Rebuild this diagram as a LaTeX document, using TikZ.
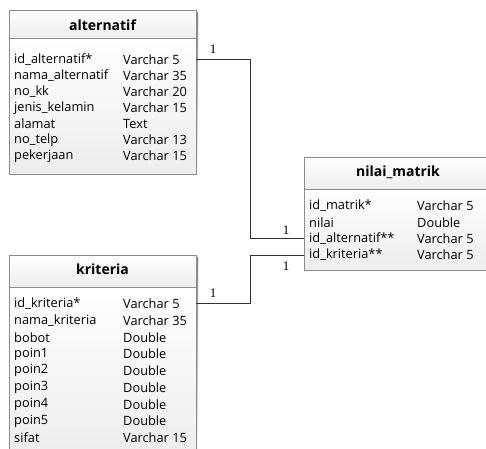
\documentclass[tikz,border=0pt]{standalone}
\usepackage{fontspec}
\setmainfont{Open Sans}
\newfontfamily\labelfont{Liberation Serif}
\usetikzlibrary{calc}
\definecolor{boxedge}{HTML}{8C8C8C}
\definecolor{boxtop}{HTML}{FFFFFF}
\definecolor{boxbot}{HTML}{EDEDED}
\definecolor{shade}{HTML}{D4D4D4}
\tikzset{
  x=1pt, y=-1pt,
  field/.style={anchor=west, inner sep=0pt, font=\fontsize{12.8}{14}\selectfont},
  ttl/.style={inner sep=0pt, font=\fontsize{14}{16}\selectfont\bfseries},
  one/.style={inner sep=0pt, font=\fontsize{13}{14}\selectfont\labelfont},
  link/.style={draw=black!80, line width=0.8pt},
}
% table box: #1 left, #2 top, #3 right, #4 separator, #5 bottom
\newcommand{\tablebox}[5]{%
  \fill[shade] (#1+2,#2+2) rectangle (#3+2,#5+2);
  \shade[top color=boxtop, bottom color=boxbot] (#1,#2) rectangle (#3,#4);
  \shade[top color=boxtop, bottom color=boxbot] (#1,#4) rectangle (#3,#5);
  \draw[boxedge, line width=0.9pt] (#1,#2) rectangle (#3,#5);
  \draw[boxedge, line width=0.9pt] (#1,#4) -- (#3,#4);
}
\begin{document}
\begin{tikzpicture}
\useasboundingbox (0,0) rectangle (486,448);
\clip (0,0) rectangle (486,448);

% alternatif
\tablebox{9}{10}{196}{38}{174}
\node[ttl] (ta) at (102.5,25) {alternatif};
\foreach \n/\t [count=\i from 0] in {id\_alternatif*/Varchar 5, nama\_alternatif/Varchar 35, no\_kk/Varchar 20, jenis\_kelamin/Varchar 15, alamat/Text, no\_telp/Varchar 13, pekerjaan/Varchar 15}{
  \node[field] (an\i) at (14,60+16*\i) {\n};
  \node[field] (at\i) at (123,60+16*\i) {\t};
}

% kriteria
\tablebox{9}{255}{196}{287}{460}
\node[ttl] (tk) at (102.5,269) {kriteria};
\foreach \n/\t [count=\i from 0] in {id\_kriteria*/Varchar 5, nama\_kriteria/Varchar 35, bobot/Double, poin1/Double, poin2/Double, poin3/Double, poin4/Double, poin5/Double, sifat/Varchar 15}{
  \node[field] (kn\i) at (14,304+16.7*\i) {\n};
  \node[field] (kt\i) at (123,304+16.7*\i) {\t};
}

% nilai_matrik
\tablebox{304}{157}{495}{189}{270}
\node[ttl] (tm) at (398,172) {nilai\_matrik};
\foreach \n/\t [count=\i from 0] in {id\_matrik*/Varchar 5, nilai/Double, id\_alternatif**/Varchar 5, id\_kriteria**/Varchar 5}{
  \node[field] (mn\i) at (309,206+16.3*\i) {\n};
  \node[field] (mt\i) at (417,206+16.3*\i) {\t};
}

% connector end points on the box edges
\coordinate (pa) at (196,59.5);
\coordinate (pk) at (196,303);
\coordinate (qa) at (304,238);
\coordinate (qk) at (304,255);

\draw[link] (pa) -- (250,59.5) |- (qa);
\draw[link] (pk) -- (250,303) |- (qk);

\node[one] (la) at (213,49) {1};
\node[one] (lb) at (286,230) {1};
\node[one] (lc) at (213,293) {1};
\node[one] (ld) at (286,266) {1};
\end{tikzpicture}
\end{document}
